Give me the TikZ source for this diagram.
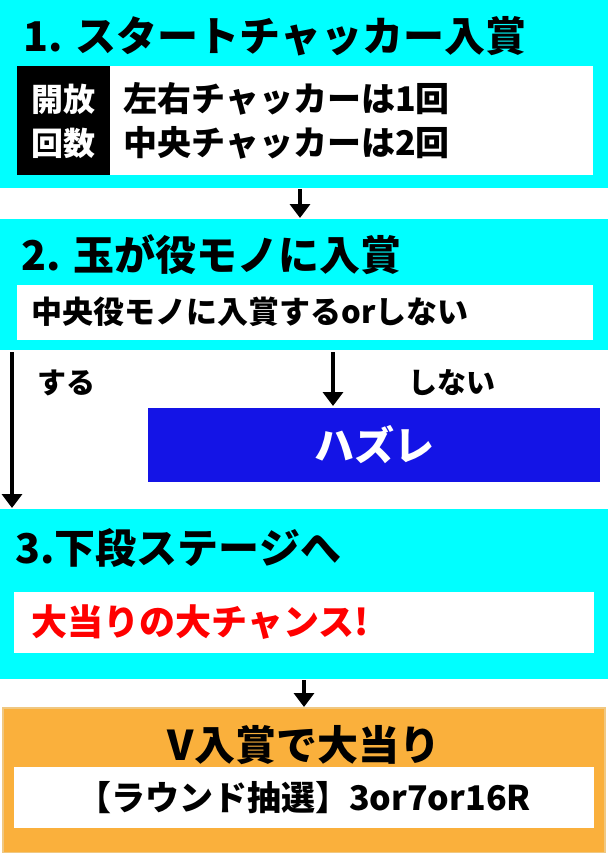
\documentclass[tikz,border=0pt]{standalone}
\usepackage{fontspec}
\setmainfont{Noto Sans CJK JP}[BoldFont={Noto Sans CJK JP Black}]
\usetikzlibrary{arrows.meta}
\definecolor{cy}{RGB}{0,255,255}
\definecolor{bl}{RGB}{20,20,230}
\definecolor{og}{RGB}{250,176,60}
\definecolor{ogd}{RGB}{240,200,130}
\begin{document}
\begin{tikzpicture}[x=1pt,y=-1pt,
  ttl/.style={anchor=west,font=\bfseries\fontsize{41}{44}\selectfont},
  txt/.style={anchor=west,font=\bfseries\fontsize{34}{36}\selectfont},
  arr/.style={line width=4pt,-{Triangle[length=14pt,width=20pt]}}]
\useasboundingbox (0,0) rectangle (608,853);
% box 1
\fill[cy] (0,0) rectangle (608,188);
\node[ttl] (t1) at (20,36) {1. スタートチャッカー入賞};
\fill[white] (17,66) rectangle (593,175);
\fill[black] (17,66) rectangle (110,175);
\node[txt,text=white,align=center,anchor=center,font=\bfseries\fontsize{32}{44}\selectfont] (lb) at (63,121) {開放\\回数};
\node[txt] (l1) at (120,99) {左右チャッカーは1回};
\node[txt] (l2) at (120,143) {中央チャッカーは2回};
% box 2
\fill[cy] (0,219) rectangle (608,350);
\node[ttl] (t2) at (18,255) {2. 玉が役モノに入賞};
\fill[white] (17,285) rectangle (593,340);
\node[txt,font=\bfseries\fontsize{31}{33}\selectfont] (l3) at (28,312) {中央役モノに入賞するorしない};
\coordinate (sa) at (12,352);
\coordinate (sb) at (12,508);
\draw[arr] (sa) -- (sb);
\node[txt,font=\bfseries\fontsize{29}{30}\selectfont] (su) at (34,383) {する};
\coordinate (na) at (333,352);
\coordinate (nb) at (333,406);
\draw[arr] (na) -- (nb);
\node[txt,font=\bfseries\fontsize{29}{30}\selectfont] (sn) at (405,383) {しない};
\fill[bl] (148,408) rectangle (600,482);
\node[txt,text=white,anchor=center,font=\bfseries\fontsize{40}{44}\selectfont] (hz) at (374,445) {ハズレ};
% box 3
\fill[cy] (0,509) rectangle (608,679);
\node[ttl] (t3) at (12,548) {3.下段ステージへ};
\fill[white] (14,592) rectangle (594,653);
\node[txt,text=red,font=\bfseries\fontsize{36}{38}\selectfont] (l4) at (28,622) {大当りの大チャンス!};
% box 4
\fill[og] (3,708) rectangle (605,853);
\draw[ogd,line width=1.5pt] (3,708) rectangle (605,853);
\node[ttl,anchor=center] (t4) at (304,745) {V入賞で大当り};
\fill[white] (14,767) rectangle (594,828);
\node[txt,anchor=center] (l5) at (304,798) {【ラウンド抽選】3or7or16R};
% arrows
\coordinate (a1) at (300,189);
\coordinate (a2) at (300,218);
\draw[arr] (a1) -- (a2);
\coordinate (a3) at (304,680);
\coordinate (a4) at (304,707);
\draw[arr] (a3) -- (a4);
\end{tikzpicture}
\end{document}
